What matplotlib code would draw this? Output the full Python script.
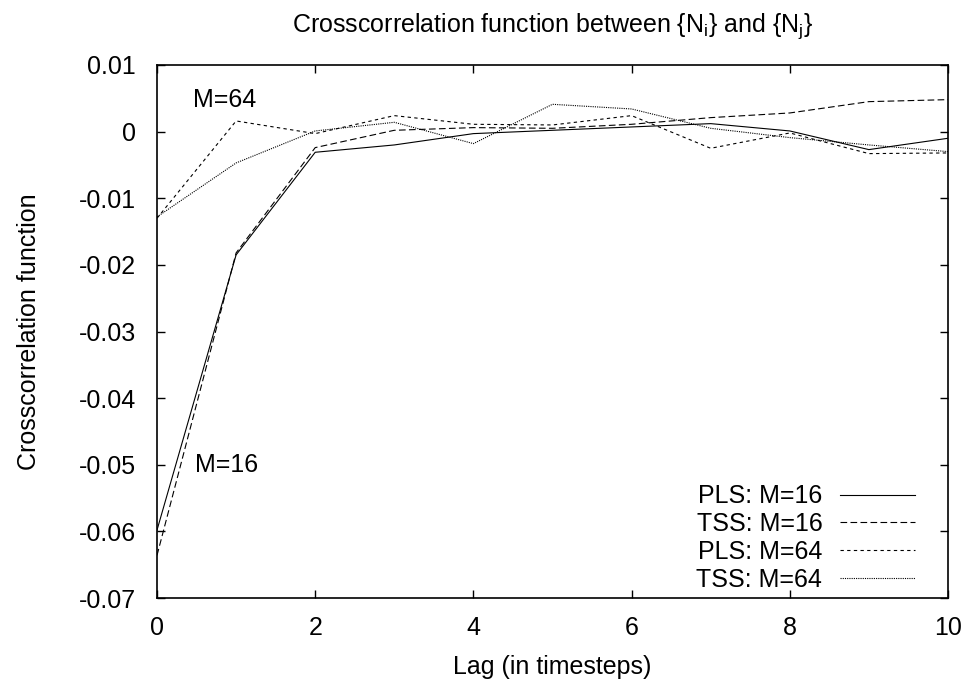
"""
Crosscorrelation function between {N_i} and {N_j} for PLS / TSS runs.
"""

import matplotlib
matplotlib.use('Agg')
import matplotlib.pyplot as plt
from matplotlib.ticker import MultipleLocator, FuncFormatter

matplotlib.rcParams['font.family'] = ['Liberation Sans', 'DejaVu Sans']
matplotlib.rcParams['mathtext.fontset'] = 'custom'
matplotlib.rcParams['mathtext.rm'] = 'Liberation Sans'
matplotlib.rcParams['axes.unicode_minus'] = False
matplotlib.rcParams['font.size'] = 18

# data
lag = [0, 1, 2, 3, 4, 5, 6, 7, 8, 9, 10]
pls_m16 = [-0.0598, -0.0185, -0.0031, -0.0020, -0.0003, 0.0002, 0.0007, 0.0012, 0.0001, -0.0027, -0.0010]
tss_m16 = [-0.0636, -0.0182, -0.0024, 0.0002, 0.0006, 0.0005, 0.0011, 0.0021, 0.0028, 0.0045, 0.0048]
pls_m64 = [-0.0130, 0.0016, -0.0003, 0.0024, 0.0011, 0.0010, 0.0024, -0.0025, -0.0002, -0.0033, -0.0032]
tss_m64 = [-0.0128, -0.0047, 0.0001, 0.0014, -0.0018, 0.0041, 0.0034, 0.0005, -0.0009, -0.0020, -0.0030]

series = [
    ('PLS: M=16', pls_m16, '-'),
    ('TSS: M=16', tss_m16, (0, (6, 3))),
    ('PLS: M=64', pls_m64, (0, (3, 3))),
    ('TSS: M=64', tss_m64, (0, (1, 1))),
]

fig = plt.figure(figsize=(9.71, 6.87), dpi=100)
ax = fig.add_axes([0.1617, 0.1295, 0.8146, 0.7759])

for label, vals, ls in series:
    ax.plot(lag, vals, color='black', linewidth=0.8, linestyle=ls, label=label)

ax.set_xlim(0, 10)
ax.set_ylim(-0.07, 0.01)
ax.xaxis.set_major_locator(MultipleLocator(2))
ax.yaxis.set_major_locator(MultipleLocator(0.01))
ax.yaxis.set_major_formatter(FuncFormatter(lambda v, p: f'{v:g}' if abs(v) > 1e-12 else '0'))
ax.tick_params(direction='in', length=6, width=1, top=True, right=True)
ax.tick_params(axis='x', pad=13)
ax.tick_params(axis='y', pad=15)
for sp in ax.spines.values():
    sp.set_linewidth(1.2)

ax.set_xlabel('Lag (in timesteps)', labelpad=11)
ax.set_ylabel('Crosscorrelation function', labelpad=27)
ax.set_title(r'Crosscorrelation function between {N$_\mathrm{i}$} and {N$_\mathrm{j}$}',
             fontsize=18, pad=24)

ax.text(0.46, 0.0047, 'M=64', ha='left', va='center')
ax.text(0.48, -0.0501, 'M=16', ha='left', va='center')

leg = ax.legend(loc='lower right', bbox_to_anchor=(0.958, 0.012), frameon=False,
                markerfirst=False, handlelength=3.0, handletextpad=0.7,
                labelspacing=0.15, borderaxespad=0, borderpad=0, fontsize=18)
for t in leg.get_texts():
    t.set_ha('right')

fig.savefig('out.png', dpi=100)
